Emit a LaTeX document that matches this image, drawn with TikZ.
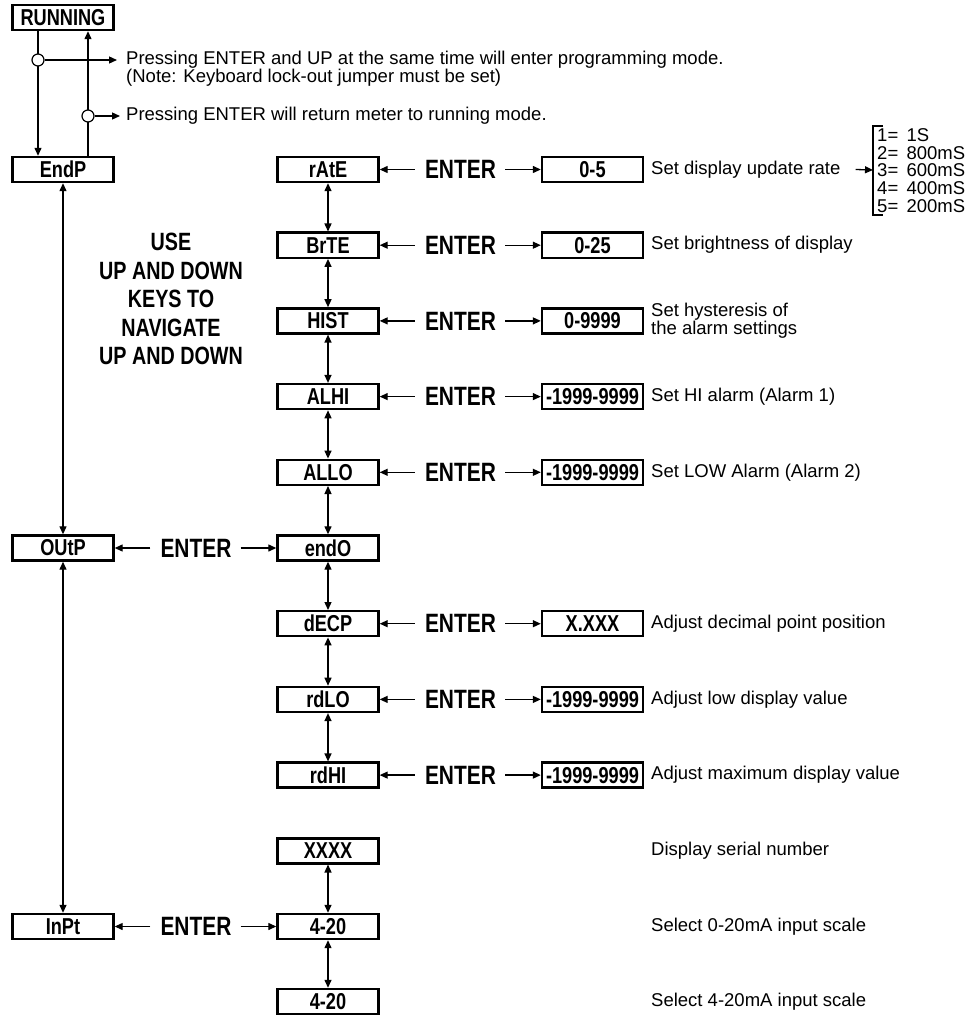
\documentclass[tikz,border=0pt]{standalone}
\usepackage{fontspec}
\setmainfont{Liberation Sans}
\newfontfamily\cndfont{Liberation Sans}[FakeStretch=0.79]
\usetikzlibrary{arrows.meta}
\newcommand{\lsp}{\hspace{0.45em}}
\begin{document}
\begin{tikzpicture}[x=1pt,y=-1pt,
  box/.style={draw,line width=2.4pt,minimum width=101pt,minimum height=25pt,inner sep=0pt,font=\cndfont\bfseries\fontsize{23}{24}\selectfont},
  ent/.style={inner sep=0pt,font=\cndfont\bfseries\fontsize{26.5}{28}\selectfont},
  usetxt/.style={inner sep=0pt,align=center,font=\cndfont\bfseries\fontsize{25}{28.5}\selectfont},
  desc/.style={anchor=west,inner sep=0pt,align=left,font=\fontsize{18.5}{18}\selectfont},
  lsttxt/.style={anchor=west,inner sep=0pt,align=left,font=\fontsize{18.5}{17.8}\selectfont},
  plain/.style={line width=1.3pt},
  arr/.style={line width=1.3pt,-{Triangle[length=8pt,width=7pt]}},
  darr/.style={line width=1.3pt,{Triangle[length=8pt,width=7pt]}-{Triangle[length=8pt,width=7pt]}},
  circ/.style={circle,draw,line width=1.2pt,fill=white,minimum size=12pt,inner sep=0pt}]
\useasboundingbox (0,0) rectangle (974,1016);

% left column
\node[box] (run) at (63,17.5) {RUNNING};
\node[box] (endp) at (63,169.5) {EndP};
\node[box] (outp) at (63,548) {OUtP};
\node[box] (inpt) at (63,926.5) {InPt};

% top loop
\node[desc] (t1) at (126,69) {Pressing ENTER and UP at the same time will enter programming mode.\\(Note: Keyboard lock-out jumper must be set)};
\node[desc] (t2) at (126,116) {Pressing ENTER will return meter to running mode.};
\coordinate (xl) at (38,0);
\coordinate (xr) at (88,0);
\draw[plain] (run.south -| xl) -- (xl |- 0,54);
\draw[arr] (xl |- 0,66) -- (endp.north -| xl);
\draw[plain] (endp.north -| xr) -- (xr |- 0,122);
\draw[arr] (xr |- 0,110) -- (run.south -| xr);
\node[circ] (c1) at (38,60) {};
\node[circ] (c2) at (88,116) {};
\draw[arr] (c1.east) -- ([xshift=-9pt]c1 -| t1.west);
\draw[arr] (c2.east) -- ([xshift=-6pt]t2.west);

% navigation text
\node[usetxt] (use) at (171,299) {USE\\UP AND DOWN\\KEYS TO\\NAVIGATE\\UP AND DOWN};

% middle column
\node[box] (rate) at (328,169.5) {rAtE};
\node[box] (brte) at (328,245.2) {BrTE};
\node[box] (hist) at (328,320.9) {HIST};
\node[box] (alhi) at (328,396.6) {ALHI};
\node[box] (allo) at (328,472.3) {ALLO};
\node[box] (endo) at (328,548) {endO};
\node[box] (decp) at (328,623.7) {dECP};
\node[box] (rdlo) at (328,699.4) {rdLO};
\node[box] (rdhi) at (328,775.1) {rdHI};
\node[box] (xxxx) at (328,850.8) {XXXX};
\node[box] (ina) at (328,926.5) {4-20};
\node[box] (inb) at (328,1001.5) {4-20};

\draw[darr] (endp.south) -- (outp.north);
\draw[darr] (outp.south) -- (inpt.north);
\draw[darr] (rate.south) -- (brte.north);
\draw[darr] (brte.south) -- (hist.north);
\draw[darr] (hist.south) -- (alhi.north);
\draw[darr] (alhi.south) -- (allo.north);
\draw[darr] (allo.south) -- (endo.north);
\draw[darr] (endo.south) -- (decp.north);
\draw[darr] (decp.south) -- (rdlo.north);
\draw[darr] (rdlo.south) -- (rdhi.north);
\draw[darr] (xxxx.south) -- (ina.north);
\draw[darr] (ina.south) -- (inb.north);

% ENTER rows on the left
\node[ent] (eo) at (196,548) {ENTER};
\node[ent] (ei) at (196,926.5) {ENTER};
\draw[arr] ([xshift=-10pt]eo.west) -- (outp.east);
\draw[arr] ([xshift=9pt]eo.east) -- (endo.west);
\draw[arr] ([xshift=-10pt]ei.west) -- (inpt.east);
\draw[arr] ([xshift=9pt]ei.east) -- (ina.west);

% ENTER rows in the middle
\foreach \src/\nm/\val/\txt in {rate/a/0-5/{Set display update rate},
  brte/b/0-25/{Set brightness of display},
  hist/c/0-9999/{Set hysteresis of\\the alarm settings},
  alhi/d/-1999-9999/{Set HI alarm (Alarm 1)},
  allo/e/-1999-9999/{Set LOW Alarm (Alarm 2)},
  decp/f/X.XXX/{Adjust decimal point position},
  rdlo/g/-1999-9999/{Adjust low display value},
  rdhi/h/-1999-9999/{Adjust maximum display value}}{
  \node[ent] (e\nm) at (460.5,0 |- \src) {ENTER};
  \node[box] (v\nm) at (592.5,0 |- \src) {\val};
  \node[desc] (d\nm) at (651,0 |- \src) {\txt};
  \draw[arr] ([xshift=-10pt]e\nm.west) -- (\src.east);
  \draw[arr] ([xshift=9pt]e\nm.east) -- (v\nm.west);
}

% descriptions without value boxes
\node[desc] (dx) at (651,0 |- xxxx) {Display serial number};
\node[desc] (di) at (651,0 |- ina) {Select 0-20mA input scale};
\node[desc] (dj) at (651,0 |- inb) {Select 4-20mA input scale};

% update rate list
\coordinate (brk) at (873,170);
\draw[line width=2pt] (883,126) -| (873,215) -- (883,215);
\draw[arr] ([xshift=15pt]da.east) -- (brk);
\node[lsttxt] (lst) at (877,170.5) {1=\lsp 1S\\2=\lsp 800mS\\3=\lsp 600mS\\4=\lsp 400mS\\5=\lsp 200mS};
\end{tikzpicture}
\end{document}
